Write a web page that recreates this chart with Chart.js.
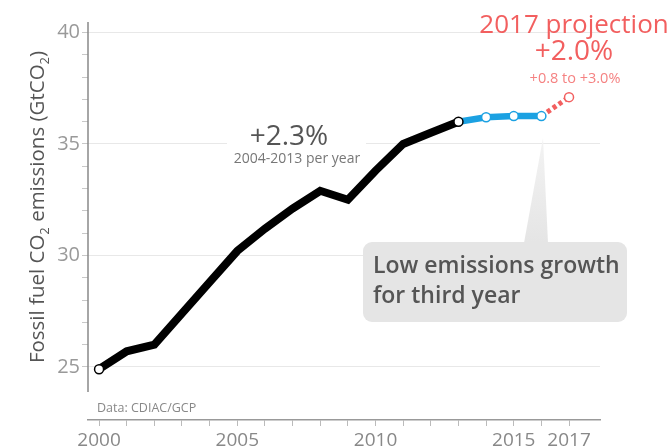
<!DOCTYPE html>
<html>
<head>
<meta charset="utf-8">
<script src="https://cdn.jsdelivr.net/npm/chart.js@4"></script>
<style>
  html, body { margin: 0; background: #fff; }
  #wrap { width: 671px; height: 447px; }
</style>
</head>
<body>
<div id="wrap"><canvas id="co2-chart"></canvas></div>
<script>
// fossil CO2 emissions, GtCO2
const histYears = [2000, 2001, 2002, 2003, 2004, 2005, 2006, 2007, 2008, 2009, 2010, 2011, 2012, 2013];
const histValues = [24.9, 25.7, 26.0, 27.4, 28.8, 30.2, 31.2, 32.1, 32.9, 32.5, 33.8, 35.0, 35.5, 36.0];
const flatYears = [2013, 2014, 2015, 2016];
const flatValues = [36.0, 36.2, 36.25, 36.25];
const projYears = [2016, 2017];
const projValues = [36.25, 37.1];

const xTickYears = [2000, 2001, 2002, 2003, 2004, 2005, 2006, 2007, 2008, 2009, 2010, 2011, 2012, 2013, 2014, 2015, 2016, 2017];
const xLabelYears = [2000, 2005, 2010, 2015, 2017];
const yTickValues = [25, 26, 27, 28, 29, 30, 31, 32, 33, 34, 35, 36, 37, 38, 39, 40];
const yLabelValues = [25, 30, 35, 40];

const FONT = '"Open Sans", sans-serif';
const RED = '#f25f5f';
const BLUE = '#1ba1e2';

function toPoints(xs, ys) {
  return xs.map((x, i) => ({ x: x, y: ys[i] }));
}

function roundRect(ctx, x, y, w, h, r) {
  ctx.beginPath();
  ctx.moveTo(x + r, y);
  ctx.arcTo(x + w, y, x + w, y + h, r);
  ctx.arcTo(x + w, y + h, x, y + h, r);
  ctx.arcTo(x, y + h, x, y, r);
  ctx.arcTo(x, y, x + w, y, r);
  ctx.closePath();
}

function text(ctx, str, x, y, size, color, align, weight) {
  ctx.font = (weight || 'normal') + ' ' + size + 'px ' + FONT;
  ctx.fillStyle = color;
  ctx.textAlign = align || 'left';
  ctx.textBaseline = 'alphabetic';
  ctx.fillText(str, x, y);
}

const annotations = {
  id: 'annotations',
  beforeDatasetsDraw(chart) {
    const ctx = chart.ctx;
    const y = chart.scales.y;
    ctx.save();
    // gap in the 35 gridline behind the growth label
    ctx.fillStyle = '#fff';
    ctx.fillRect(227, y.getPixelForValue(35) - 3, 139, 6);

    // y axis line (stops short of the x axis)
    ctx.strokeStyle = '#888';
    ctx.lineWidth = 1.5;
    ctx.beginPath();
    ctx.moveTo(88, chart.chartArea.top);
    ctx.lineTo(88, 392);
    ctx.stroke();

    // callout box + pointer
    const g = ctx.createLinearGradient(0, 138, 0, 242);
    g.addColorStop(0, '#f3f3f3');
    g.addColorStop(1, '#e5e5e5');
    ctx.fillStyle = g;
    ctx.beginPath();
    ctx.moveTo(524, 243);
    ctx.lineTo(543, 138);
    ctx.lineTo(548, 243);
    ctx.closePath();
    ctx.fill();
    ctx.fillStyle = '#e5e5e5';
    roundRect(ctx, 363, 242, 264, 80, 9);
    ctx.fill();
    ctx.restore();
  },
  afterDraw(chart) {
    const ctx = chart.ctx;
    ctx.save();
    text(ctx, '+2.3%', 289, 145, 28, '#555', 'center');
    text(ctx, '2004-2013 per year', 297, 163, 14, '#777', 'center');

    text(ctx, '2017 projection', 574, 33, 26, RED, 'center');
    text(ctx, '+2.0%', 574, 60, 28, RED, 'center');
    text(ctx, '+0.8 to +3.0%', 575, 83, 14.5, '#f58282', 'center');

    text(ctx, 'Low emissions growth', 373, 273, 23, '#555', 'left', '600');
    text(ctx, 'for third year', 373, 303, 23, '#555', 'left', '600');

    text(ctx, 'Data: CDIAC/GCP', 97, 412, 12.5, '#888', 'left');

    // rotated y title with subscripts
    const parts = [['Fossil fuel CO', 20.5, 0], ['2', 13, 5], [' emissions (GtCO', 20.5, 0], ['2', 13, 5], [')', 20.5, 0]];
    let total = 0;
    parts.forEach(p => { ctx.font = '500 ' + p[1] + 'px ' + FONT; total += ctx.measureText(p[0]).width; });
    ctx.translate(44, 207);
    ctx.rotate(-Math.PI / 2);
    let cx = -total / 2;
    parts.forEach(p => {
      text(ctx, p[0], cx, p[2], p[1], '#555', 'left', '500');
      cx += ctx.measureText(p[0]).width;
    });
    ctx.restore();
  }
};

const co2Chart = new Chart(document.getElementById('co2-chart').getContext('2d'), {
  type: 'line',
  data: {
    datasets: [{
      label: 'historic',
      data: toPoints(histYears, histValues),
      borderColor: '#000',
      borderWidth: 8,
      pointRadius: ctx => (ctx.dataIndex === 0 || ctx.dataIndex === histYears.length - 1) ? 4.5 : 0,
      pointBackgroundColor: '#fff',
      pointBorderColor: '#000',
      pointBorderWidth: 1.5,
      tension: 0
    }, {
      label: 'flat',
      data: toPoints(flatYears, flatValues),
      borderColor: BLUE,
      borderWidth: 6.5,
      pointRadius: ctx => ctx.dataIndex === 0 ? 0 : 4.5,
      pointBackgroundColor: '#fff',
      pointBorderColor: BLUE,
      pointBorderWidth: 1.5,
      tension: 0
    }, {
      label: 'projection',
      data: toPoints(projYears, projValues),
      borderColor: RED,
      borderWidth: 5,
      borderDash: [4, 3],
      pointRadius: ctx => ctx.dataIndex === 0 ? 0 : 4.5,
      pointBackgroundColor: '#fff',
      pointBorderColor: RED,
      pointBorderWidth: 1.5,
      tension: 0
    }]
  },
  options: {
    responsive: true,
    maintainAspectRatio: false,
    animation: false,
    events: [],
    layout: { padding: { top: 22, right: 71, left: 0, bottom: 0 } },
    plugins: { legend: { display: false }, tooltip: { enabled: false } },
    scales: {
      x: {
        type: 'linear',
        min: 1999.6,
        max: 2018.12,
        afterBuildTicks: s => { s.ticks = xTickYears.map(v => ({ value: v })); },
        afterFit: s => { s.height = 27; },
        grid: { drawOnChartArea: false, tickLength: 6, tickColor: '#bbb' },
        border: { color: '#999', width: 1.5 },
        ticks: {
          autoSkip: false,
          maxRotation: 0,
          padding: 3,
          color: '#888',
          font: { family: FONT, size: 19 },
          callback: v => xLabelYears.includes(v) ? String(v) : ''
        }
      },
      y: {
        min: 22.62,
        max: 40.47,
        afterBuildTicks: s => { s.ticks = yTickValues.map(v => ({ value: v })); },
        afterFit: s => { s.width = 88; },
        grid: {
          color: ctx => (ctx.tick && yLabelValues.includes(ctx.tick.value)) ? '#e8e8e8' : 'rgba(0,0,0,0)',
          tickColor: '#c8c8c8',
          tickLength: 6
        },
        border: { display: false },
        ticks: {
          autoSkip: false,
          padding: 2,
          color: '#999',
          font: { family: FONT, size: 20 },
          callback: v => yLabelValues.includes(v) ? String(v) : ''
        }
      }
    }
  },
  plugins: [annotations]
});
</script>
</body>
</html>
